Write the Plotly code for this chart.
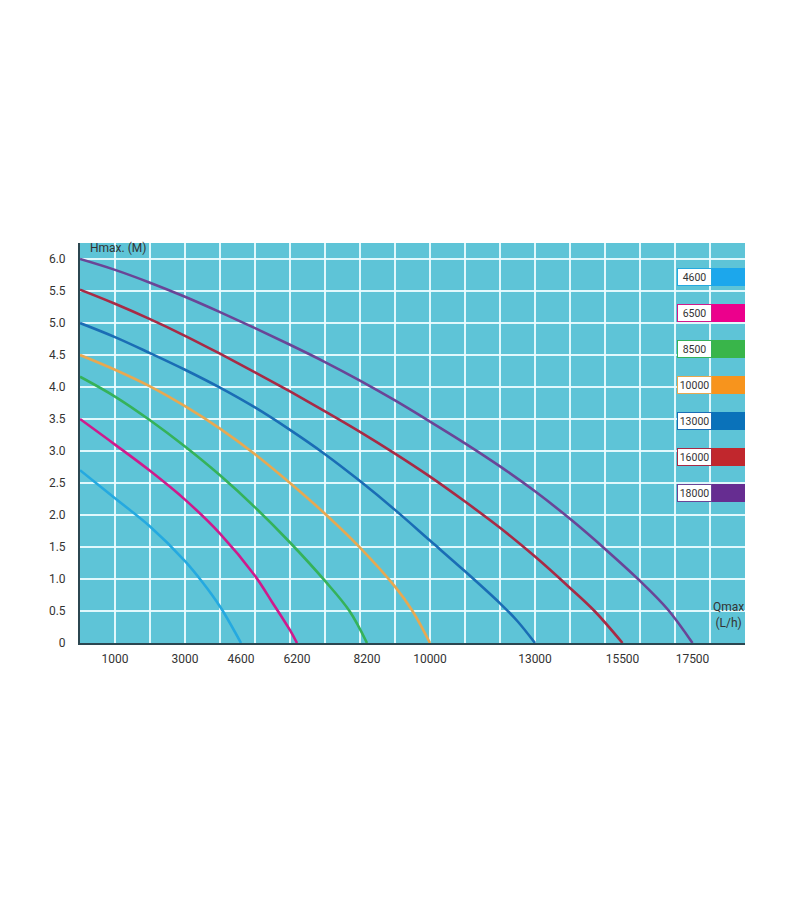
import plotly.graph_objects as go

# ── Data (flow in L/h, head in m) ────────────────────────────────────────────
models = ["4600", "6500", "8500", "10000", "13000", "16000", "18000"]

q_4600 = [0, 1000, 2000, 3000, 3500, 4000, 4600]
h_4600 = [2.7, 2.26, 1.82, 1.28, 0.95, 0.57, 0.0]

q_6500 = [0, 1000, 2000, 3000, 4000, 5000, 5500, 6000, 6200]
h_6500 = [3.5, 3.1, 2.69, 2.24, 1.71, 1.05, 0.63, 0.2, 0.0]

q_8500 = [0, 1000, 2000, 3000, 4000, 5000, 6000, 7000, 7700, 8200]
h_8500 = [4.16, 3.85, 3.48, 3.07, 2.62, 2.12, 1.57, 0.97, 0.5, 0.0]

q_10000 = [0, 1000, 2000, 3000, 4000, 5000, 6000, 7000, 8000, 9000, 9500, 10000]
h_10000 = [4.5, 4.27, 4.01, 3.7, 3.35, 2.95, 2.5, 2.02, 1.49, 0.88, 0.5, 0.0]

q_13000 = [0, 1000, 2000, 3000, 4000, 5000, 6000, 7000, 8000, 9000, 10000,
           11000, 12000, 12500, 13000]
h_13000 = [5.0, 4.78, 4.53, 4.27, 3.99, 3.68, 3.33, 2.95, 2.53, 2.08, 1.6,
           1.12, 0.62, 0.34, 0.0]

q_16000 = [0, 1000, 2000, 3000, 4000, 5000, 6000, 7000, 8000, 9000, 10000,
           11000, 12000, 13000, 14000, 14700, 15500]
h_16000 = [5.52, 5.3, 5.06, 4.8, 4.52, 4.23, 3.93, 3.62, 3.3, 2.96, 2.6,
           2.21, 1.8, 1.35, 0.86, 0.5, 0.0]

q_18000 = [0, 1000, 2000, 3000, 4000, 5000, 6000, 7000, 8000, 9000, 10000,
           11000, 12000, 13000, 14000, 15000, 16000, 16800, 17500]
h_18000 = [6.0, 5.83, 5.63, 5.41, 5.17, 4.92, 4.66, 4.39, 4.1, 3.79, 3.46,
           3.12, 2.76, 2.37, 1.94, 1.47, 0.97, 0.52, 0.0]

x_tickvals = [1000, 3000, 4600, 6200, 8200, 10000, 13000, 15500, 17500]
x_ticktext = ["1000", "3000", "4600", "6200", "8200", "10000", "13000",
              "15500", "17500"]
y_tickvals = [0, 0.5, 1.0, 1.5, 2.0, 2.5, 3.0, 3.5, 4.0, 4.5, 5.0, 5.5, 6.0]
y_ticktext = ["0", "0.5", "1.0", "1.5", "2.0", "2.5", "3.0", "3.5", "4.0",
              "4.5", "5.0", "5.5", "6.0"]

curves = [
    (q_4600, h_4600), (q_6500, h_6500), (q_8500, h_8500),
    (q_10000, h_10000), (q_13000, h_13000), (q_16000, h_16000),
    (q_18000, h_18000),
]
line_colors = ["#25a9e0", "#cf1a8c", "#35b25a", "#e8a850",
               "#1a6db5", "#a82a45", "#6a4597"]
swatch_colors = ["#1ca7ec", "#ec008c", "#39b54a", "#f7941d",
                 "#0a72ba", "#c1272d", "#662d91"]

FONT = "Liberation Sans Narrow, Roboto, sans-serif"
AXIS = "#2b4650"
BG = "#5ec4d7"
GRID = "rgba(236,252,255,0.92)"

fig = go.Figure()

for (q, h), col, name in zip(curves, line_colors, models):
    fig.add_trace(go.Scatter(
        x=q, y=h, mode="lines", name=name,
        line=dict(color=col, width=2.6, shape="spline", smoothing=1.0),
        hoverinfo="x+y+name",
    ))

# axis arrow heads
fig.add_trace(go.Scatter(
    x=[0], y=[6.27], mode="markers", cliponaxis=False, hoverinfo="skip",
    marker=dict(symbol="triangle-up", size=9, color=AXIS),
))
fig.add_trace(go.Scatter(
    x=[19050], y=[0], mode="markers", cliponaxis=False, hoverinfo="skip",
    marker=dict(symbol="triangle-right", size=9, color=AXIS),
))

# ── Legend boxes (drawn by hand, right side of the grid) ─────────────────────
def px_y(py):
    return (643 - py) / 400


def px_x(px):
    return (px - 80) / 665


shapes = []
annotations = []
for i, (name, sw, lc) in enumerate(zip(models, swatch_colors, line_colors)):
    cy = 277 + 36 * i
    shapes.append(dict(
        type="rect", xref="paper", yref="paper",
        x0=px_x(712), x1=px_x(745), y0=px_y(cy + 9), y1=px_y(cy - 9),
        fillcolor=sw, line=dict(width=0), layer="above",
    ))
    annotations.append(dict(
        text=name, xref="paper", yref="paper",
        x=px_x(694), y=px_y(cy), showarrow=False,
        xanchor="center", yanchor="middle",
        width=33, height=16, bgcolor="white",
        bordercolor=lc, borderwidth=1, borderpad=0,
        font=dict(family=FONT, size=10.5, color="#333333"),
    ))

annotations.append(dict(
    text="Hmax. (M)", xref="paper", yref="paper",
    x=px_x(88), y=px_y(248), xanchor="left", yanchor="middle",
    showarrow=False, font=dict(family=FONT, size=12, color="#333333"),
))
annotations.append(dict(
    text="Qmax<br>(L/h)", xref="paper", yref="paper",
    x=px_x(728), y=px_y(615), xanchor="center", yanchor="middle",
    showarrow=False, font=dict(family=FONT, size=12, color="#333333"),
))

# page body adds an 8px offset, so margins are shifted to land the grid
# at the same pixels as the original
fig.update_layout(
    width=800, height=900,
    paper_bgcolor="white", plot_bgcolor=BG,
    margin=dict(l=72, r=63, t=235, b=265),
    showlegend=False,
    shapes=shapes, annotations=annotations,
    font=dict(family=FONT, color="#333333"),
    xaxis=dict(
        range=[0, 19000], tickmode="array", tickvals=x_tickvals,
        ticktext=x_ticktext,
        showgrid=False, zeroline=False,
        showline=True, linecolor=AXIS, linewidth=2,
        ticks="", ticklabelstandoff=4,
        tickfont=dict(family=FONT, size=12, color="#333333"),
        minor=dict(tickmode="linear", tick0=0, dtick=1000, showgrid=True,
                   gridcolor=GRID, gridwidth=1.5, ticks=""),
    ),
    yaxis=dict(
        range=[0, 6.25], tickmode="array", tickvals=y_tickvals,
        ticktext=y_ticktext, showgrid=True, gridcolor=GRID, gridwidth=1.5,
        zeroline=False, showline=True, linecolor=AXIS, linewidth=2,
        ticks="", ticklabelstandoff=10,
        tickfont=dict(family=FONT, size=12, color="#333333"),
    ),
)

fig.write_html("out.html")
